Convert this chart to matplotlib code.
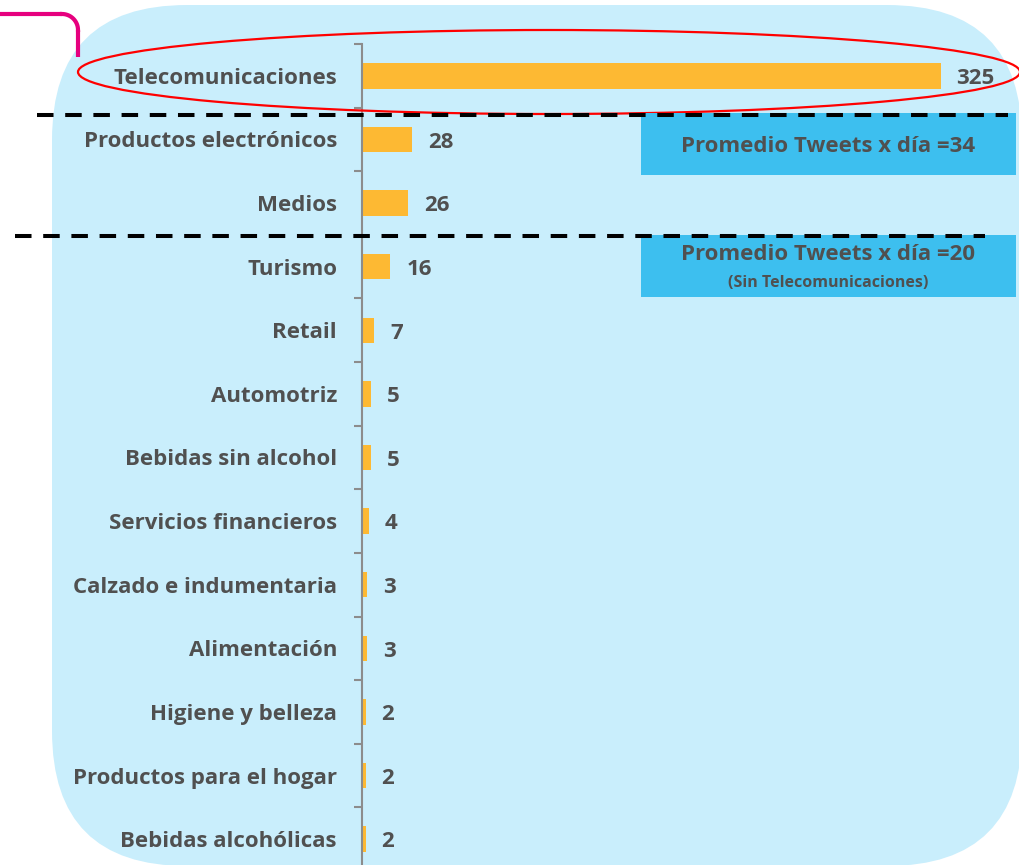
import numpy as np
import matplotlib.pyplot as plt
from matplotlib.patches import FancyBboxPatch, Ellipse, Rectangle

sectores = ['Telecomunicaciones', 'Productos electrónicos', 'Medios', 'Turismo',
            'Retail', 'Automotriz', 'Bebidas sin alcohol', 'Servicios financieros',
            'Calzado e indumentaria', 'Alimentación', 'Higiene y belleza',
            'Productos para el hogar', 'Bebidas alcohólicas']
tweets_dia = [325, 28, 26, 16, 7, 5, 5, 4, 3, 3, 2, 2, 2]
promedio_total = 34
promedio_sin_telco = 20

GRIS = '#505050'
FUENTE = ['Open Sans', 'DejaVu Sans']
plt.rcParams['font.family'] = FUENTE
TAM = 16

fig = plt.figure(figsize=(10.2, 8.65), dpi=100)

# fondo celeste redondeado (coordenadas en pixeles)
fondo = fig.add_axes([0, 0, 1, 1], zorder=0)
fondo.set_xlim(0, 1020)
fondo.set_ylim(865, 0)
fondo.axis('off')
fondo.add_patch(FancyBboxPatch((52, 5), 970, 861,
                               boxstyle='round,pad=0,rounding_size=135',
                               fc='#C9EEFC', ec='none'))

# grafico de barras
ax = fig.add_axes([362 / 1020, -0.0069, (1010 - 362) / 1020, 0.956], zorder=1)
ax.patch.set_alpha(0)
pos = np.arange(len(sectores))
ax.barh(pos, tweets_dia, height=0.4, color='#FDB933')
ax.set_ylim(len(sectores) - 0.5, -0.5)
ax.set_xlim(0, 364)
for s in ['top', 'right', 'bottom']:
    ax.spines[s].set_visible(False)
ax.spines['left'].set_color('#8C8C8C')
ax.spines['left'].set_linewidth(1.5)
ax.set_xticks([])
ax.set_yticks(pos)
ax.set_yticklabels(sectores, fontsize=TAM, fontweight='bold', color=GRIS)
ax.tick_params(axis='y', which='major', length=0, pad=18)
ax.set_yticks(np.arange(-0.5, len(sectores), 1), minor=True)
ax.tick_params(axis='y', which='minor', length=6, width=1.5, color='#8C8C8C')

for p, v in zip(pos, tweets_dia):
    ax.annotate(str(v), (v, p), xytext=(11.5, -2), textcoords='offset points',
                ha='left', va='center', fontsize=TAM, fontweight='bold', color=GRIS)

# anotaciones encima
capa = fig.add_axes([0, 0, 1, 1], zorder=2)
capa.set_xlim(0, 1020)
capa.set_ylim(865, 0)
capa.axis('off')
capa.plot([0, 62], [14, 14], color='#E6007E', lw=3, solid_capstyle='butt')
t = np.linspace(0, np.pi / 2, 30)
capa.plot(62 + 16 * np.sin(t), 30 - 16 * np.cos(t), color='#E6007E', lw=3)
capa.plot([78, 78], [30, 57], color='#E6007E', lw=3, solid_capstyle='butt')

capa.add_patch(Ellipse((549, 72), 942, 84, fc='none', ec='#FF0000', lw=1.6))

capa.plot([37, 1008], [115, 115], color='black', lw=2.9, dashes=(4.1, 2.9))
capa.plot([15, 985], [236, 236], color='black', lw=2.9, dashes=(4.1, 2.9))

capa.add_patch(Rectangle((641, 113), 375, 62, fc='#3DBFEF', ec='none'))
capa.add_patch(Rectangle((641, 235), 375, 62, fc='#3DBFEF', ec='none'))
capa.text(828, 146, f'Promedio Tweets x día ={promedio_total}', ha='center', va='center',
          fontsize=TAM, fontweight='bold', color=GRIS)
capa.text(828, 254, f'Promedio Tweets x día ={promedio_sin_telco}', ha='center', va='center',
          fontsize=TAM, fontweight='bold', color=GRIS)
capa.text(828, 283, '(Sin Telecomunicaciones)', ha='center', va='center',
          fontsize=11.5, fontweight='bold', color=GRIS)

fig.savefig('out.png', dpi=100)
